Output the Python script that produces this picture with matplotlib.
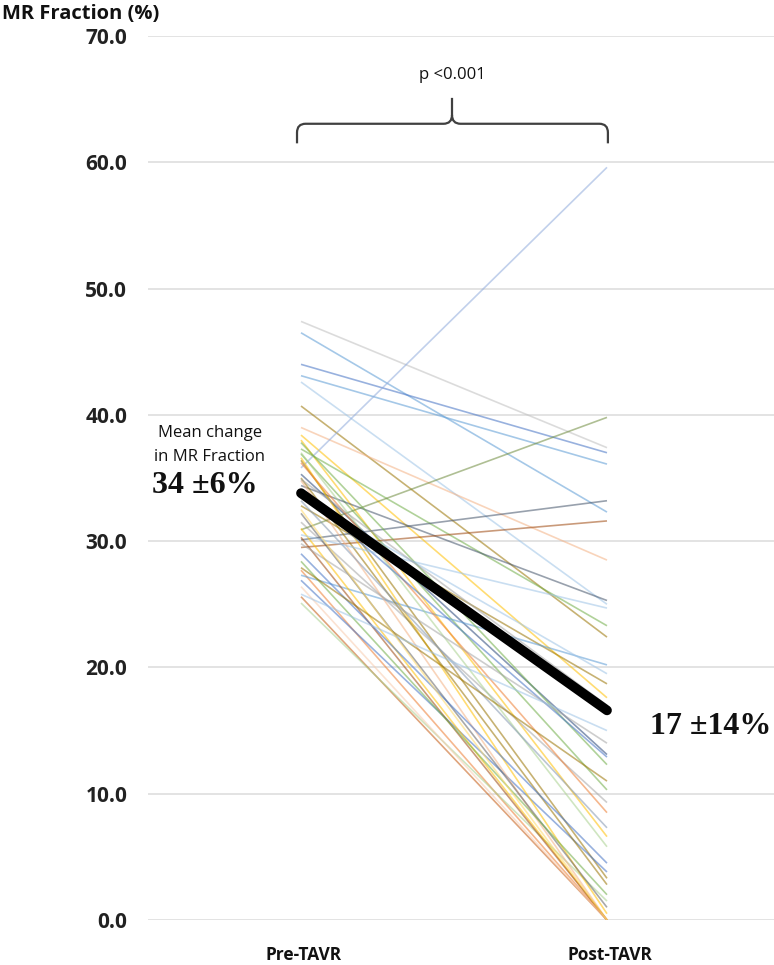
import matplotlib
matplotlib.use("Agg")
import matplotlib.pyplot as plt
from matplotlib.path import Path
from matplotlib.patches import PathPatch

# ---- data ----
groups = ["Pre-TAVR", "Post-TAVR"]
pre = [47.4, 46.5, 44.0, 43.1, 42.6, 40.7, 39.0, 38.4, 38.0, 37.3, 36.9, 36.4,
       35.8, 35.3, 34.4, 32.8, 31.5, 30.9, 30.1, 29.5, 27.7, 27.3, 26.9, 25.6,
       25.1, 37.8, 37.0, 36.6, 36.2, 35.0, 34.8, 34.0, 33.5, 33.2, 32.2, 31.0,
       30.5, 30.3, 29.8, 29.0, 28.4, 27.9, 26.4, 25.8, 34.9, 32.5]
post = [37.4, 32.3, 37.0, 36.1, 25.0, 22.4, 28.5, 17.6, 6.6, 23.3, 10.3, 3.3,
        59.6, 13.1, 25.3, 18.7, 9.3, 39.8, 33.2, 31.6, 0.0, 20.2, 3.8, 0.0,
        1.5, 12.3, 5.8, 0.5, 8.5, 2.8, 0.0, 12.9, 19.5, 7.3, 1.0, 0.0,
        24.7, 0.0, 14.0, 4.5, 2.0, 11.0, 0.0, 15.0, 17.0, 0.0]
line_colors = ["#BFBFBF", "#5B9BD5", "#4472C4", "#5B9BD5", "#9DC3E6", "#997300",
               "#F4B183", "#FFC000", "#FFC000", "#70AD47", "#70AD47", "#997300",
               "#8FAADC", "#264478", "#44546A", "#997300", "#A5A5A5", "#6E8B3D",
               "#44546A", "#9E480E", "#ED7D31", "#5B9BD5", "#4472C4", "#C55A11",
               "#A9D18E", "#70AD47", "#A9D18E", "#FFC000", "#ED7D31", "#997300",
               "#F4B183", "#4472C4", "#9DC3E6", "#8497B0", "#636363", "#FFC000",
               "#9DC3E6", "#9E480E", "#A5A5A5", "#4472C4", "#70AD47", "#997300",
               "#F8CBAD", "#9DC3E6", "#A5A5A5", "#FFD966"]
mean_vals = [33.8, 16.6]
y_ticks = [0, 10, 20, 30, 40, 50, 60, 70]
p_text = "p <0.001"
pre_label = "34 \u00b16%"
post_label = "17 \u00b114%"

W, H = 774, 965
fig = plt.figure(figsize=(W / 100, H / 100), dpi=100)
ax = fig.add_axes([148 / W, 45 / H, (W - 148) / W, (920 - 36) / H])
ax.set_xlim(-0.5, 1.5458)
ax.set_ylim(0, 70)

sans = ["Open Sans", "DejaVu Sans"]

ax.set_yticks(y_ticks)
ax.set_yticklabels([f"{v:.1f}" for v in y_ticks], fontsize=15, fontweight="bold",
                   family=sans, color="#222222")
ax.tick_params(axis="y", length=0, pad=15)
ax.set_xticks([])
ax.yaxis.grid(True, color="#E0E0E0", lw=1.3)
ax.set_axisbelow(True)
for s in ax.spines.values():
    s.set_visible(False)

for a, b, c in zip(pre, post, line_colors):
    ax.plot([0, 1], [a, b], color=c, lw=1.2, alpha=0.55, solid_capstyle="butt")

ax.plot([0, 1], mean_vals, color="black", lw=7, solid_capstyle="round", zorder=5)

for i, g in enumerate(groups):
    ax.text(i + 0.01, -2.8, g, ha="center", va="center", fontsize=12.5,
            fontweight="bold", family=sans, color="#111111", clip_on=False)

# bracket
xl, xr, xm = -0.013, 1.003, 0.4935
yb, yh, yt = 61.5, 63.05, 65.1
rx, ry = 0.028, 0.7
verts = [(xl, yb), (xl, yh - ry), (xl, yh), (xl + rx, yh), (xm - rx, yh), (xm, yh), (xm, yh + ry), (xm, yt),
         (xm, yh + ry), (xm, yh), (xm + rx, yh), (xr - rx, yh), (xr, yh), (xr, yh - ry), (xr, yb)]
codes = [Path.MOVETO, Path.LINETO, Path.CURVE3, Path.CURVE3, Path.LINETO, Path.CURVE3, Path.CURVE3, Path.LINETO,
         Path.MOVETO, Path.CURVE3, Path.CURVE3, Path.LINETO, Path.CURVE3, Path.CURVE3, Path.LINETO]
ax.add_patch(PathPatch(Path(verts, codes), fill=False, edgecolor="#404040", lw=1.6))
ax.text(xm, 66.9, p_text, ha="center", va="center", fontsize=12, family=sans, color="#111111")

# text annotations (figure pixel coordinates)
def ftext(x, y, s, **kw):
    fig.text(x / W, 1 - y / H, s, **kw)

ftext(2, 14, "MR Fraction (%)", ha="left", va="center", fontsize=14.5,
      fontweight="bold", family=sans, color="#111111")
ftext(210, 433, "Mean change", ha="center", va="center", fontsize=12, family=sans, color="#111111")
ftext(210, 457, "in MR Fraction", ha="center", va="center", fontsize=12, family=sans, color="#111111")
ftext(152, 486, pre_label, ha="left", va="center", fontsize=23, fontweight="bold",
      family=["Liberation Serif", "DejaVu Serif"], color="#111111")
ftext(650, 727, post_label, ha="left", va="center", fontsize=23, fontweight="bold",
      family=["Liberation Serif", "DejaVu Serif"], color="#111111")

fig.savefig("out.png", dpi=100)
